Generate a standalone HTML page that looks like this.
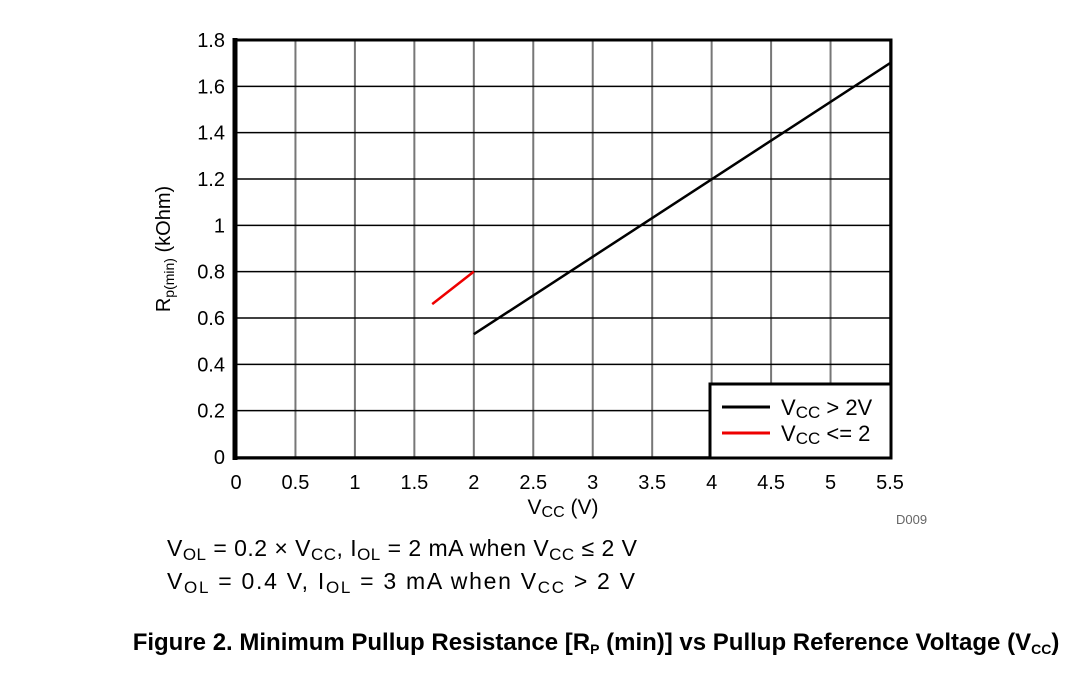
<!DOCTYPE html>
<html><head><meta charset="utf-8"><style>
body{margin:0;background:#fff;width:1076px;height:675px;overflow:hidden;font-family:"Liberation Sans",Arial,sans-serif}
</style></head><body>
<svg width="1076" height="675" xmlns="http://www.w3.org/2000/svg" font-family="Liberation Sans, Arial, sans-serif">
<g id="grid"></g>
<g id="ticks" font-size="20" fill="#000"></g>
<g id="series"></g>
<rect x="235" y="40" width="656" height="418" fill="none" stroke="#000" stroke-width="3"/>
<line x1="235" y1="38" x2="235" y2="460" stroke="#000" stroke-width="5"/>
<text transform="translate(170,249) rotate(-90)" text-anchor="middle" font-size="20">R<tspan font-size="14" dy="4">p(min)</tspan><tspan dy="-4"> (kOhm)</tspan></text>
<text x="563" y="514" text-anchor="middle" font-size="21">V<tspan font-size="16" dy="3">CC</tspan><tspan dy="-3"> (V)</tspan></text>
<text x="896" y="524" font-size="13" fill="#666">D009</text>
<g>
<rect x="710" y="384" width="181" height="74" fill="#fff" stroke="#000" stroke-width="3"/>
<line x1="722" y1="407" x2="770" y2="407" stroke="#000" stroke-width="3"/>
<line x1="722" y1="433" x2="770" y2="433" stroke="#e00" stroke-width="3"/>
<text x="781" y="415" font-size="22">V<tspan font-size="17" dy="3">CC</tspan><tspan dy="-3"> &gt; 2V</tspan></text>
<text x="781" y="441" font-size="22">V<tspan font-size="17" dy="3">CC</tspan><tspan dy="-3"> &lt;= 2</tspan></text>
</g>
<text x="167" y="556" font-size="23" textLength="470">V<tspan font-size="17" dy="4">OL</tspan><tspan dy="-4"> = 0.2 × V</tspan><tspan font-size="17" dy="4">CC</tspan><tspan dy="-4">, I</tspan><tspan font-size="17" dy="4">OL</tspan><tspan dy="-4"> = 2 mA when V</tspan><tspan font-size="17" dy="4">CC</tspan><tspan dy="-4"> ≤ 2 V</tspan></text>
<text x="167" y="589" font-size="23" textLength="468">V<tspan font-size="17" dy="4">OL</tspan><tspan dy="-4"> = 0.4 V, I</tspan><tspan font-size="17" dy="4">OL</tspan><tspan dy="-4"> = 3 mA when V</tspan><tspan font-size="17" dy="4">CC</tspan><tspan dy="-4"> &gt; 2 V</tspan></text>
<text x="596" y="650" text-anchor="middle" font-size="24" font-weight="bold">Figure 2. Minimum Pullup Resistance [R<tspan font-size="14" dy="4">P</tspan><tspan dy="-4"> (min)] vs Pullup Reference Voltage (V</tspan><tspan font-size="14" dy="4">CC</tspan><tspan dy="-4">)</tspan></text>
</svg>
<script>
const xTicks=[0,0.5,1,1.5,2,2.5,3,3.5,4,4.5,5,5.5];
const yTicks=[0,0.2,0.4,0.6,0.8,1,1.2,1.4,1.6,1.8];
const blackX=[2,5.5];
const blackY=[0.53,1.7];
const redX=[1.65,2];
const redY=[0.66,0.8];
const X=v=>236+v*(654/5.5);
const Y=v=>457-v*(417/1.8);
const NS="http://www.w3.org/2000/svg";
const grid=document.getElementById('grid'),ticks=document.getElementById('ticks'),series=document.getElementById('series');
function mk(t,a,p){const e=document.createElementNS(NS,t);for(const k in a)e.setAttribute(k,a[k]);p.appendChild(e);return e;}
xTicks.forEach(v=>{
 const l=mk('line',{x1:X(v),x2:X(v),y1:40,y2:458,stroke:'#777','stroke-width':2},grid);
 
 
 const t=mk('text',{x:X(v),y:489,'text-anchor':'middle'},ticks);t.textContent=v;
 
 
});
yTicks.forEach(v=>{
 const l=mk('line',{x1:235,x2:891,y1:Y(v),y2:Y(v),stroke:'#000','stroke-width':1.5},grid);
 
 
 const t=mk('text',{x:225,y:Y(v)+7,'text-anchor':'end'},ticks);t.textContent=v;
 
 
});
function line(xs,ys,c,n){const p=mk('polyline',{points:xs.map((x,i)=>X(x)+','+Y(ys[i])).join(' '),fill:'none',stroke:c,'stroke-width':2.5},series);
 
 }
line(blackX,blackY,'#000','series-vcc-gt-2');
line(redX,redY,'#e00','series-vcc-le-2');
</script>
</body></html>
